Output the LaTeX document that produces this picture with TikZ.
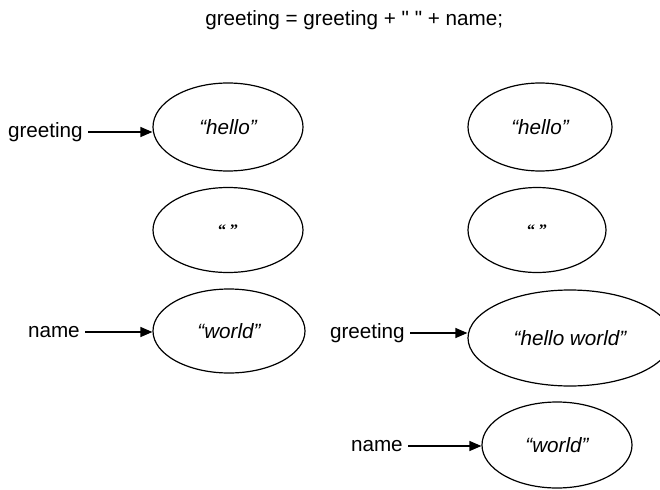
\documentclass[tikz,border=0pt]{standalone}
\usepackage{fontspec}
\setmainfont{Liberation Sans}
\newfontfamily\quotefont{Liberation Serif}
\newfontfamily\titlefont{Liberation Sans}
\usetikzlibrary{shapes.geometric,arrows.meta}
\begin{document}
\begin{tikzpicture}[x=0.75pt,y=-0.75pt,
  val/.style={draw=black,line width=0.9pt,ellipse,inner sep=0pt,font=\fontsize{15.5}{18}\selectfont\itshape},
  lbl/.style={inner sep=0pt,anchor=east,font=\fontsize{15.5}{18}\selectfont},
  emptyq/.style={font=\quotefont\fontsize{12}{14}\selectfont\bfseries},
  arr/.style={line width=0.9pt,-{Triangle[length=9pt,width=7.5pt]},shorten <=4pt}]
\useasboundingbox (0,0) rectangle (660,489);
\node[inner sep=0pt,anchor=base west,font=\titlefont\fontsize{15.5}{18}\selectfont] (title) at (205,25) {greeting = greeting + " " + name;};
% left column
\node[val,minimum width=112.5pt,minimum height=66pt] (h1) at (228,127) {“hello”};
\node[val,emptyq,minimum width=112.5pt,minimum height=63.75pt] (s1) at (228,230) {“ ”};
\node[val,minimum width=114pt,minimum height=63pt] (w1) at (229,331) {“world”};
% right column
\node[val,minimum width=108pt,minimum height=66pt] (h2) at (540,127) {“hello”};
\node[val,emptyq,minimum width=103.5pt,minimum height=63.75pt] (s2) at (537,230) {“ ”};
\node[val,minimum width=153pt,minimum height=72pt] (hw) at (570,338) {“hello world”};
\node[val,minimum width=112.5pt,minimum height=64.5pt] (w2) at (557,445) {“world”};
% labels
\node[lbl] (g1) at (83,132) {greeting};
\node[lbl] (n1) at (80,332) {name};
\node[lbl] (g2) at (405,333) {greeting};
\node[lbl] (n2) at (403,446) {name};
% arrows
\draw[arr] (g1.east) -- (g1.east -| h1.west);
\draw[arr] (n1.east) -- (n1.east -| w1.west);
\draw[arr] (g2.east) -- (g2.east -| hw.west);
\draw[arr] (n2.east) -- (n2.east -| w2.west);
\end{tikzpicture}
\end{document}
